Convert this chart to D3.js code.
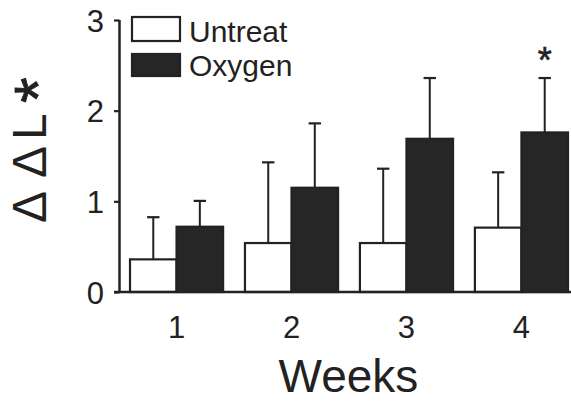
<!DOCTYPE html>
<html>
<head>
<meta charset="utf-8">
<script src="https://cdn.jsdelivr.net/npm/d3@7"></script>
<style>
  html, body { margin: 0; padding: 0; background: #fff; }
  svg { display: block; }
  text { font-family: "Liberation Sans", Arial, sans-serif; fill: #222; }
</style>
</head>
<body>
<svg id="chart" width="571" height="401"></svg>
<script>
const weeks = ["1", "2", "3", "4"];
const seriesNames = ["Untreat", "Oxygen"];
const untreat = [0.36, 0.54, 0.54, 0.71];
const oxygen = [0.72, 1.15, 1.69, 1.76];
const untreatErr = [0.465, 0.89, 0.82, 0.61];
const oxygenErr = [0.285, 0.71, 0.67, 0.60];
const yTicks = [0, 1, 2, 3];
const significant = [false, false, false, true];

const svg = d3.select("#chart");
const dark = "#222";
const fills = ["#ffffff", "#262626"];

const y = d3.scaleLinear().domain([0, 3]).range([292, 20]);
const x0 = d3.scaleBand().domain(weeks).range([130, 568]).paddingInner(0.19).paddingOuter(0);
const x1 = d3.scaleBand().domain(seriesNames).range([0, x0.bandwidth()]).padding(0);

const data = weeks.map((w, i) => ({
  week: w,
  sig: significant[i],
  vals: [
    { name: "Untreat", v: untreat[i], e: untreatErr[i], fill: fills[0] },
    { name: "Oxygen", v: oxygen[i], e: oxygenErr[i], fill: fills[1] }
  ]
}));

// bars
const g = svg.append("g");
const groups = g.selectAll("g.grp").data(data).join("g")
  .attr("transform", d => `translate(${x0(d.week)},0)`);

// error bars (drawn behind bars)
groups.selectAll("g.err").data(d => d.vals).join("g").each(function(d) {
  const cx = x1(d.name) + x1.bandwidth() / 2;
  const sel = d3.select(this);
  sel.append("line").attr("x1", cx).attr("x2", cx)
    .attr("y1", y(d.v)).attr("y2", y(d.v + d.e))
    .attr("stroke", dark).attr("stroke-width", 2);
  sel.append("line").attr("x1", cx - 6.2).attr("x2", cx + 6.2)
    .attr("y1", y(d.v + d.e)).attr("y2", y(d.v + d.e))
    .attr("stroke", dark).attr("stroke-width", 2.2);
});

groups.selectAll("rect").data(d => d.vals).join("rect")
  .attr("x", d => x1(d.name))
  .attr("width", x1.bandwidth())
  .attr("y", d => y(d.v))
  .attr("height", d => y(0) - y(d.v))
  .attr("fill", d => d.fill)
  .attr("stroke", dark)
  .attr("stroke-width", 2.2);

// significance asterisk
groups.filter(d => d.sig).append("text")
  .attr("x", x1("Oxygen") + x1.bandwidth() / 2)
  .attr("y", d => y(d.vals[1].v + d.vals[1].e) - 5)
  .attr("text-anchor", "middle")
  .attr("font-size", 36)
  .attr("stroke", dark).attr("stroke-width", 0.6)
  .text("*");

// y axis
const yAxis = d3.axisLeft(y).tickValues(yTicks).tickFormat(d3.format("d")).tickSize(5.5).tickPadding(10);
const ya = svg.append("g").attr("transform", "translate(119.5,0)").call(yAxis);
ya.select(".domain").attr("stroke", dark).attr("stroke-width", 2.5).attr("d", `M0,${y(3)}V${y(0)}`);
ya.selectAll(".tick line").attr("stroke", dark).attr("stroke-width", 2.2);
ya.selectAll(".tick text").attr("font-size", 31).attr("font-family", "Liberation Sans, Arial, sans-serif")
  .attr("fill", dark).attr("dy", "0.36em");

// x axis baseline + labels
const xAxis = d3.axisBottom(x0).tickSize(0).tickPadding(24);
const xa = svg.append("g").attr("transform", `translate(0,${y(0)})`).call(xAxis);
xa.select(".domain").attr("stroke", dark).attr("stroke-width", 2.5).attr("d", `M114,0H571`);
xa.selectAll(".tick text").attr("font-size", 31).attr("font-family", "Liberation Sans, Arial, sans-serif")
  .attr("fill", dark).attr("dy", "0.71em");

// x title
svg.append("text").attr("x", 348.5).attr("y", 392).attr("text-anchor", "middle")
  .attr("font-size", 46).text("Weeks");

// y title (rotated)
const yt = svg.append("text").attr("transform", "translate(46,223) rotate(-90)").attr("font-size", 48);
yt.append("tspan").attr("x", 0).attr("y", 0).text("Δ");
yt.append("tspan").attr("x", 45).attr("y", 0).text("Δ");
yt.append("tspan").attr("x", 83).attr("y", 0).text("L");
yt.append("tspan").attr("x", 120).attr("y", 15).attr("font-size", 66)
  .attr("stroke", dark).attr("stroke-width", 0.8).text("*");

// legend
const legend = svg.append("g");
const legRows = [
  { name: seriesNames[0], fill: fills[0], ry: 17, rh: 24, ty: 42 },
  { name: seriesNames[1], fill: fills[1], ry: 54, rh: 22, ty: 76 }
];
legend.selectAll("rect").data(legRows).join("rect")
  .attr("x", 132).attr("y", d => d.ry).attr("width", 48).attr("height", d => d.rh)
  .attr("fill", d => d.fill).attr("stroke", dark).attr("stroke-width", 2.2);
legend.selectAll("text").data(legRows).join("text")
  .attr("x", 189).attr("y", d => d.ty).attr("font-size", 30).text(d => d.name);
</script>
</body>
</html>
